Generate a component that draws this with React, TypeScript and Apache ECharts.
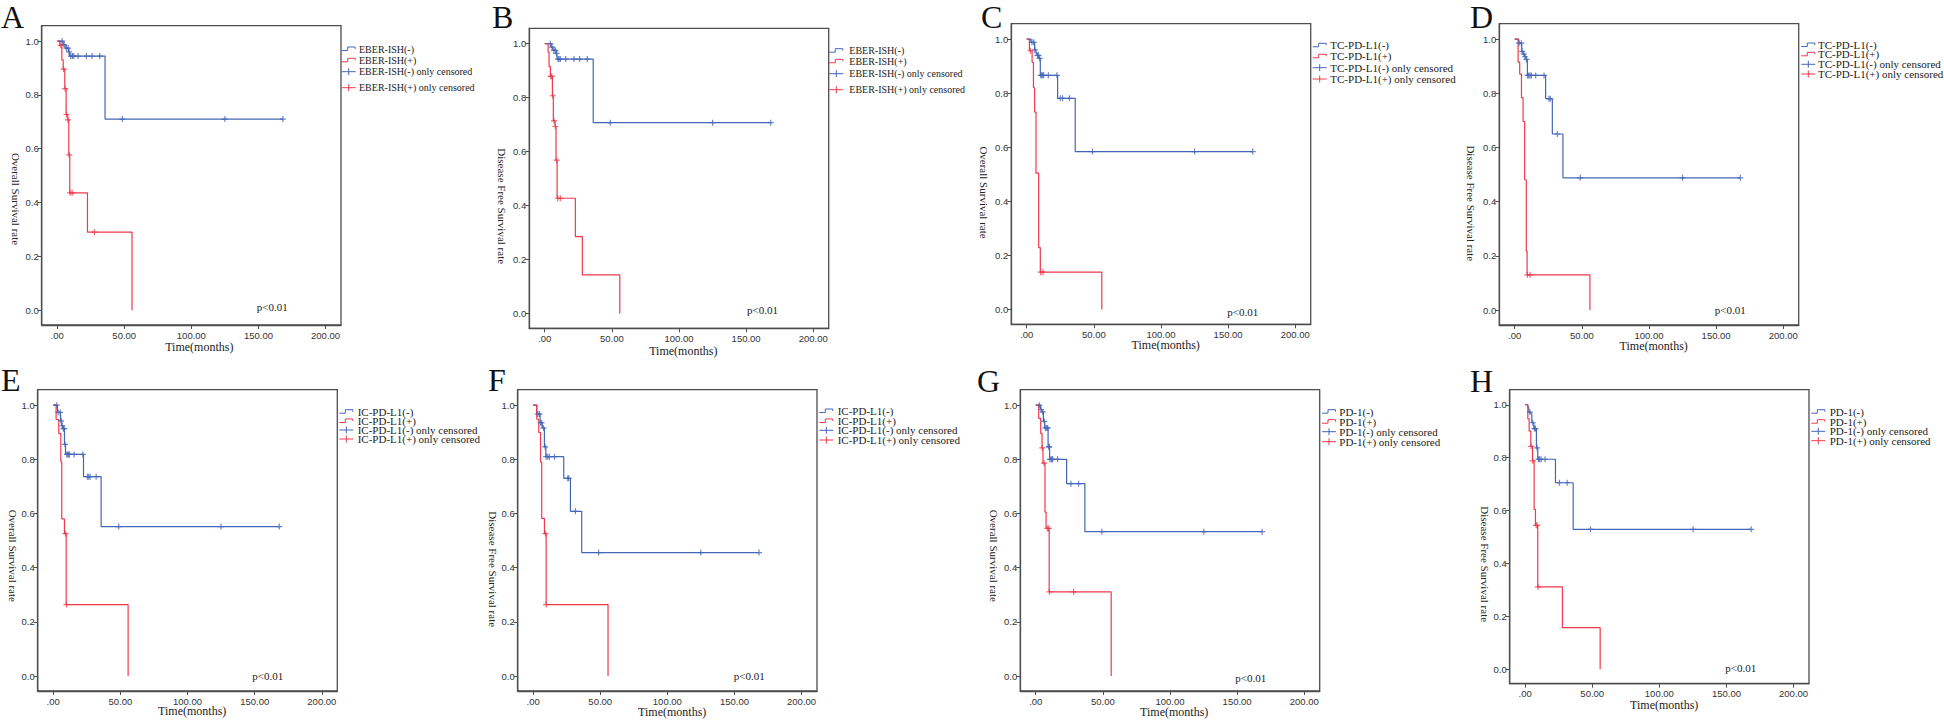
import React, { useEffect, useRef } from "react";
import * as echarts from "echarts";

// ---------- data ----------
const panelLetters = ["A", "B", "C", "D", "E", "F", "G", "H"];
const yTitles = [
  "Overall Survival rate",
  "Disease Free Survival rate",
  "Overall Survival rate",
  "Disease Free Survival rate",
  "Overall Survival rate",
  "Disease Free Survival rate",
  "Overall Survival rate",
  "Disease Free Survival rate",
];
const markerNames = ["EBER-ISH", "EBER-ISH", "TC-PD-L1", "TC-PD-L1", "IC-PD-L1", "IC-PD-L1", "PD-1", "PD-1"];
const xTitle = "Time(months)";
const pValueText = "p<0.01";
const xTickValues = [0, 50, 100, 150, 200];
const yTickValues = [0, 0.2, 0.4, 0.6, 0.8, 1.0];

// A: EBER-ISH, overall survival
const aNegSteps = [[0, 1], [4.5, 0.987], [6, 0.974], [8.5, 0.96], [9.3, 0.944], [35.7, 0.71], [168.2, 0.71]];
const aNegCens = [[3.7, 1], [5.2, 0.987], [6.9, 0.974], [8.2, 0.974], [8.8, 0.96], [10.2, 0.944], [11.4, 0.944], [12.4, 0.944], [15.6, 0.944], [21.8, 0.944], [26, 0.944], [31.8, 0.944], [48.6, 0.71], [125, 0.71], [168.2, 0.71]];
const aPosSteps = [[0, 1], [2, 0.984], [3.5, 0.93], [4.5, 0.896], [5.7, 0.823], [6.7, 0.727], [7.9, 0.707], [8.7, 0.577], [9.4, 0.436], [22.6, 0.29], [55.8, 0]];
const aPosCens = [[2.7, 0.984], [4.8, 0.896], [6, 0.823], [7, 0.727], [8.1, 0.707], [9, 0.577], [9.7, 0.436], [11.2, 0.436], [27.8, 0.29]];

// B: EBER-ISH, disease free survival
const bNegSteps = [[0, 1], [4.8, 0.987], [6.2, 0.975], [8.9, 0.964], [9.4, 0.943], [36.1, 0.707], [168.3, 0.707]];
const bNegCens = [[4.2, 1], [5.5, 0.987], [6.9, 0.975], [7.9, 0.975], [8.7, 0.964], [10, 0.943], [10.6, 0.943], [11.6, 0.943], [15.6, 0.943], [21.8, 0.943], [26, 0.943], [31.7, 0.943], [48.8, 0.707], [125, 0.707], [168.3, 0.707]];
const bPosSteps = [[0, 1], [2.5, 0.969], [3.2, 0.915], [4.2, 0.879], [5.7, 0.807], [6.4, 0.714], [7.7, 0.693], [8.4, 0.568], [9.2, 0.427], [22.8, 0.285], [28, 0.143], [55.9, 0]];
const bPosCens = [[4.5, 0.879], [5.2, 0.879], [6.0, 0.807], [6.9, 0.714], [7.9, 0.693], [8.9, 0.568], [9.7, 0.427], [11.6, 0.427]];

// C: TC-PD-L1, overall survival
const cNegSteps = [[0, 1], [3.2, 0.988], [5.9, 0.96], [6.9, 0.947], [7.9, 0.94], [8.9, 0.929], [10.1, 0.866], [23, 0.781], [36.1, 0.584], [168.3, 0.584]];
const cNegCens = [[3.9, 0.988], [5.2, 0.988], [6.0, 0.96], [8.0, 0.94], [8.7, 0.94], [9.6, 0.929], [10.4, 0.866], [11.1, 0.866], [11.9, 0.866], [12.6, 0.866], [16.1, 0.866], [22.5, 0.866], [25, 0.781], [26.7, 0.781], [31.7, 0.781], [49, 0.584], [125, 0.584], [168.3, 0.584]];
const cPosSteps = [[0, 1], [2, 0.957], [4, 0.914], [5, 0.82], [5.9, 0.73], [6.9, 0.504], [8.9, 0.229], [10.1, 0.138], [55.9, 0]];
const cPosCens = [[2.7, 0.957], [10.4, 0.138], [12, 0.138]];

// D: TC-PD-L1, disease free survival
const dNegSteps = [[0, 1], [3.0, 0.985], [5.2, 0.955], [6.4, 0.945], [7.4, 0.935], [8.4, 0.925], [9.4, 0.866], [23, 0.78], [28, 0.65], [35.9, 0.488], [168, 0.488]];
const dNegCens = [[3.2, 0.985], [4.9, 0.985], [5.5, 0.955], [6.7, 0.945], [7.7, 0.935], [8.7, 0.925], [9.6, 0.866], [10.4, 0.866], [11.4, 0.866], [12.4, 0.866], [15.6, 0.866], [21.8, 0.866], [25.5, 0.78], [26.5, 0.78], [31.7, 0.65], [48.8, 0.488], [125, 0.488], [168, 0.488]];
const dPosSteps = [[0, 1], [2.5, 0.915], [3.7, 0.871], [5, 0.784], [6.2, 0.696], [7.4, 0.481], [8.6, 0.218], [9.2, 0.13], [56, 0]];
const dPosCens = [[9.4, 0.13], [11.4, 0.13]];

// E: IC-PD-L1, overall survival
const eNegSteps = [[0, 1], [3.2, 0.973], [5.5, 0.942], [6.4, 0.924], [7.2, 0.913], [8.4, 0.855], [9.2, 0.818], [22.6, 0.736], [35.7, 0.552], [168.3, 0.552]];
const eNegCens = [[2.7, 1], [3.7, 0.973], [5.2, 0.973], [5.9, 0.942], [6.7, 0.924], [7.7, 0.913], [8.2, 0.913], [8.9, 0.855], [10.2, 0.818], [10.9, 0.818], [11.6, 0.818], [12.1, 0.818], [15.6, 0.818], [22.1, 0.818], [25.5, 0.736], [26.5, 0.736], [27.5, 0.736], [32, 0.736], [48.8, 0.552], [124.9, 0.552], [168.3, 0.552]];
const ePosSteps = [[0, 1], [2.2, 0.947], [4.2, 0.895], [5.7, 0.791], [6.4, 0.58], [8.4, 0.526], [9.7, 0.264], [55.8, 0]];
const ePosCens = [[9.2, 0.526], [9.9, 0.264]];

// F: IC-PD-L1, disease free survival
const fNegSteps = [[0, 1], [2.7, 0.967], [5.2, 0.935], [6.7, 0.916], [8.4, 0.846], [9.5, 0.81], [22.8, 0.73], [27.8, 0.608], [36.2, 0.456], [168.3, 0.456]];
const fNegCens = [[3.5, 0.967], [4.7, 0.967], [5.5, 0.935], [6.4, 0.935], [7.7, 0.916], [9.0, 0.846], [9.7, 0.81], [10.9, 0.81], [12.1, 0.81], [15.9, 0.81], [25.8, 0.73], [26.5, 0.73], [31.5, 0.608], [48.8, 0.456], [124.9, 0.456], [168.3, 0.456]];
const fPosSteps = [[0, 1], [2.7, 0.948], [4.2, 0.899], [5.5, 0.79], [6.4, 0.582], [8.4, 0.526], [9.7, 0.264], [55.8, 0]];
const fPosCens = [[9.2, 0.526], [9.7, 0.264]];

// G: PD-1, overall survival
const gNegSteps = [[0, 1], [3.5, 0.984], [4.5, 0.975], [5.7, 0.94], [6.7, 0.916], [9.2, 0.846], [10.3, 0.8], [23, 0.71], [36.6, 0.533], [168.6, 0.533]];
const gNegCens = [[2.7, 1], [4.0, 0.984], [5.2, 0.975], [6.4, 0.94], [7.2, 0.916], [8.2, 0.916], [8.9, 0.916], [9.7, 0.846], [10.1, 0.846], [10.6, 0.8], [11.6, 0.8], [12.1, 0.8], [12.6, 0.8], [16.3, 0.8], [26.2, 0.71], [31.9, 0.71], [49.3, 0.533], [125.2, 0.533], [168.6, 0.533]];
const gPosSteps = [[0, 1], [2.2, 0.951], [3.7, 0.895], [4.7, 0.842], [5.4, 0.786], [6.9, 0.605], [7.7, 0.545], [10.0, 0.311], [56.2, 0]];
const gPosCens = [[4.9, 0.842], [6.2, 0.786], [8.7, 0.545], [9.6, 0.545], [10.2, 0.311], [28.2, 0.311]];

// H: PD-1, disease free survival
const hNegSteps = [[0, 1], [2, 0.991], [2.7, 0.972], [4.2, 0.966], [5.0, 0.932], [6.5, 0.91], [8.4, 0.837], [9.4, 0.794], [22.6, 0.705], [35.8, 0.529], [168.4, 0.529]];
const hNegCens = [[3.5, 0.972], [5.7, 0.932], [7, 0.91], [7.7, 0.91], [8.9, 0.837], [9.9, 0.794], [10.7, 0.794], [11.9, 0.794], [14.9, 0.794], [25.6, 0.705], [31.3, 0.705], [48.7, 0.529], [125.2, 0.529], [168.4, 0.529]];
const hPosSteps = [[0, 1], [2, 0.947], [3, 0.9], [4.2, 0.843], [5.5, 0.788], [6.7, 0.604], [7.7, 0.544], [9.4, 0.311], [27.8, 0.157], [55.9, 0]];
const hPosCens = [[4.5, 0.843], [5.7, 0.788], [8.2, 0.544], [8.9, 0.544], [9.6, 0.311]];

const negSteps = [aNegSteps, bNegSteps, cNegSteps, dNegSteps, eNegSteps, fNegSteps, gNegSteps, hNegSteps];
const negCens = [aNegCens, bNegCens, cNegCens, dNegCens, eNegCens, fNegCens, gNegCens, hNegCens];
const posSteps = [aPosSteps, bPosSteps, cPosSteps, dPosSteps, ePosSteps, fPosSteps, gPosSteps, hPosSteps];
const posCens = [aPosCens, bPosCens, cPosCens, dPosCens, ePosCens, fPosCens, gPosCens, hPosCens];

// ---------- layout (pixels) ----------
type Layout = {
  box: number[]; // left, top, width, height
  letter: number[];
  yT: number[];
  xT: number[];
  p: number[];
  legX: number;
  legTx: number;
  legY: number[];
  legFs: number;
};
const layout: Layout[] = [
  { box: [41.7, 25.7, 299.3, 299.3], letter: [1, 16.5], yT: [15.7, 199], xT: [199.3, 347], p: [256.7, 306.7], legX: 341.7, legTx: 359, legY: [49, 60.3, 71.7, 87.7], legFs: 10 },
  { box: [529.3, 28.3, 299.4, 300], letter: [492, 16.5], yT: [501.7, 206.2], xT: [683.3, 350.7], p: [747, 310], legX: 829.3, legTx: 849.3, legY: [50.7, 61.3, 73.7, 89.7], legFs: 10 },
  { box: [1011.3, 23.7, 299.4, 300.6], letter: [981, 16.5], yT: [983.7, 192.5], xT: [1165.7, 345.3], p: [1227.3, 311.7], legX: 1312.7, legTx: 1330.3, legY: [45.3, 56.3, 67.7, 79], legFs: 11 },
  { box: [1499.3, 23.7, 299.4, 301.3], letter: [1470, 16.5], yT: [1471.3, 203.3], xT: [1653.7, 345.7], p: [1714.7, 310], legX: 1801.3, legTx: 1818, legY: [45, 54.3, 64.3, 74], legFs: 11 },
  { box: [37.7, 389.7, 299.6, 301.3], letter: [1, 380], yT: [12.7, 555.8], xT: [192.2, 710.7], p: [252.3, 675.7], legX: 339.3, legTx: 357.7, legY: [411.7, 421, 430, 439], legFs: 11 },
  { box: [517.7, 389.7, 299.3, 301.3], letter: [488, 380], yT: [492.7, 569.2], xT: [672.2, 712], p: [733.7, 675.7], legX: 819.3, legTx: 837.7, legY: [411, 421, 430.3, 440], legFs: 11 },
  { box: [1020.3, 389.7, 299.4, 301.3], letter: [977, 380.5], yT: [994.3, 555.8], xT: [1174.2, 712], p: [1235.3, 678.3], legX: 1322, legTx: 1339.3, legY: [411.7, 421.7, 431.7, 441.7], legFs: 11 },
  { box: [1509.7, 389.7, 299.3, 294], letter: [1470, 380.5], yT: [1484.7, 564.2], xT: [1664.2, 705], p: [1725.3, 668.3], legX: 1811.3, legTx: 1829.7, legY: [411.7, 421.7, 431.3, 440.7], legFs: 11 },
];

const BLUE = "#4466b8";
const RED = "#ee3a4c";
const FRAME = "#4d4d4d";
const SERIF = '"Liberation Serif", "Times New Roman", serif';
const TICKFONT = '"Liberation Sans Narrow", "Liberation Sans", Arial, sans-serif';
const PLUS = "path://M4,0H6V4H10V6H6V10H4V6H0V4H4Z";

const X_MIN = -11.5;
const X_MAX = 211.5;
const Y_MIN = -0.055;
const Y_MAX = 1.057;

function buildOption() {
  const grid: any[] = [];
  const xAxis: any[] = [];
  const yAxis: any[] = [];
  const series: any[] = [];
  const graphic: any[] = [];

  layout.forEach((L, i) => {
    const [left, top, width, height] = L.box;
    grid.push({ left, top, width, height, show: true, borderColor: FRAME, borderWidth: 1.3, containLabel: false });
    xAxis.push({
      type: "value",
      gridIndex: i,
      min: X_MIN,
      max: X_MAX,
      splitLine: { show: false },
      axisLine: { show: true, onZero: false, lineStyle: { color: FRAME, width: 1.3 } },
      axisTick: { show: true, length: 4, customValues: xTickValues, lineStyle: { color: FRAME } },
      axisLabel: {
        customValues: xTickValues,
        formatter: (v: number) => (v === 0 ? ".00" : v.toFixed(2)),
        fontSize: 9.5,
        fontFamily: TICKFONT,
        color: "#333",
        margin: 5,
      },
    });
    yAxis.push({
      type: "value",
      gridIndex: i,
      min: Y_MIN,
      max: Y_MAX,
      splitLine: { show: false },
      axisLine: { show: true, onZero: false, lineStyle: { color: FRAME, width: 1.3 } },
      axisTick: { show: true, length: 4, customValues: yTickValues, lineStyle: { color: FRAME } },
      axisLabel: {
        customValues: yTickValues,
        formatter: (v: number) => v.toFixed(1),
        fontSize: 9.5,
        fontFamily: TICKFONT,
        color: "#333",
        margin: 3,
      },
    });

    const m = markerNames[i];
    series.push({
      name: `${panelLetters[i]} ${m}(-)`,
      type: "line",
      xAxisIndex: i,
      yAxisIndex: i,
      data: negSteps[i],
      step: "end",
      symbol: "none",
      lineStyle: { color: BLUE, width: 1.2 },
      itemStyle: { color: BLUE },
      z: 2,
    });
    series.push({
      name: `${panelLetters[i]} ${m}(+)`,
      type: "line",
      xAxisIndex: i,
      yAxisIndex: i,
      data: posSteps[i],
      step: "end",
      symbol: "none",
      lineStyle: { color: RED, width: 1.2 },
      itemStyle: { color: RED },
      z: 3,
    });
    series.push({
      name: `${panelLetters[i]} ${m}(-) only censored`,
      type: "scatter",
      xAxisIndex: i,
      yAxisIndex: i,
      data: negCens[i],
      symbol: PLUS,
      symbolSize: 6,
      itemStyle: { color: BLUE },
      z: 4,
    });
    series.push({
      name: `${panelLetters[i]} ${m}(+) only censored`,
      type: "scatter",
      xAxisIndex: i,
      yAxisIndex: i,
      data: posCens[i],
      symbol: PLUS,
      symbolSize: 6,
      itemStyle: { color: RED },
      z: 5,
    });

    // panel letter
    graphic.push({
      type: "text",
      x: L.letter[0],
      y: L.letter[1],
      style: { text: panelLetters[i], font: `32px ${SERIF}`, fill: "#111", align: "left", verticalAlign: "middle" },
    });
    // y axis title (reads top to bottom)
    graphic.push({
      type: "text",
      x: L.yT[0],
      y: L.yT[1],
      rotation: -Math.PI / 2,
      style: { text: yTitles[i], font: `11px ${SERIF}`, fill: "#222", align: "center", verticalAlign: "middle" },
    });
    // x axis title
    graphic.push({
      type: "text",
      x: L.xT[0],
      y: L.xT[1],
      style: { text: xTitle, font: `12px ${SERIF}`, fill: "#222", align: "center", verticalAlign: "middle" },
    });
    // p value
    graphic.push({
      type: "text",
      x: L.p[0],
      y: L.p[1],
      style: { text: pValueText, font: `11px ${SERIF}`, fill: "#222", align: "left", verticalAlign: "middle" },
    });

    // legend
    const labels = [`${m}(-)`, `${m}(+)`, `${m}(-) only censored`, `${m}(+) only censored`];
    const colors = [BLUE, RED, BLUE, RED];
    labels.forEach((lab, k) => {
      const x0 = L.legX;
      const y0 = L.legY[k];
      if (k < 2) {
        graphic.push({
          type: "polyline",
          shape: { points: [[x0, y0 + 1.5], [x0 + 6, y0 + 1.5], [x0 + 6, y0 - 2], [x0 + 13.5, y0 - 2], [x0 + 13.5, y0]] },
          style: { stroke: colors[k], lineWidth: 1, fill: null },
        });
      } else {
        graphic.push({
          type: "line",
          shape: { x1: x0, y1: y0, x2: x0 + 14, y2: y0 },
          style: { stroke: colors[k], lineWidth: 1 },
        });
        graphic.push({
          type: "line",
          shape: { x1: x0 + 7, y1: y0 - 3.5, x2: x0 + 7, y2: y0 + 3.5 },
          style: { stroke: colors[k], lineWidth: 1 },
        });
      }
      graphic.push({
        type: "text",
        x: L.legTx,
        y: y0,
        style: { text: lab, font: `${L.legFs}px ${SERIF}`, fill: "#222", align: "left", verticalAlign: "middle" },
      });
    });
  });

  return {
    animation: false,
    backgroundColor: "#ffffff",
    textStyle: { fontFamily: SERIF },
    grid,
    xAxis,
    yAxis,
    series,
    graphic,
  };
}

export default function App() {
  const ref = useRef<HTMLDivElement>(null);
  useEffect(() => {
    if (!ref.current) return;
    const chart = echarts.init(ref.current, null, { renderer: "svg" });
    chart.setOption(buildOption() as any);
    return () => chart.dispose();
  }, []);
  return (
    <div
      ref={ref}
      style={{ position: "absolute", left: 0, top: 0, width: 1944, height: 720, background: "#fff" }}
    />
  );
}
